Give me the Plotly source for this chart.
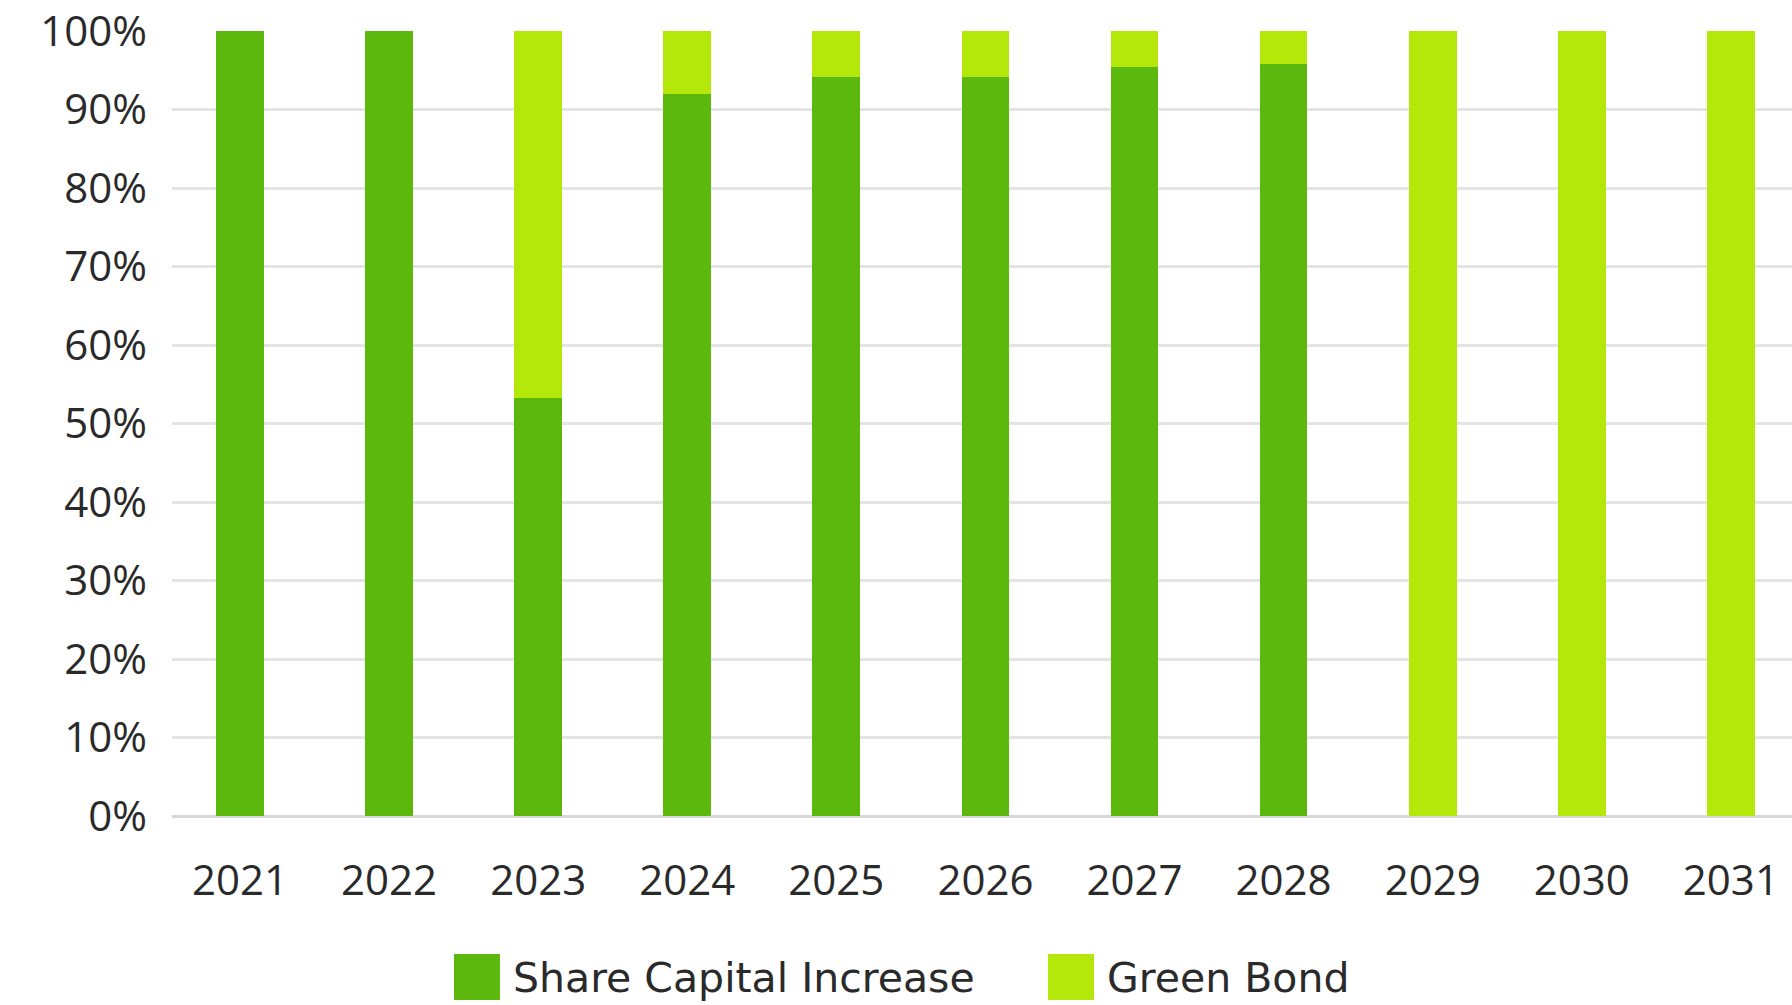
import plotly.graph_objects as go

years = ["2021", "2022", "2023", "2024", "2025", "2026", "2027", "2028", "2029", "2030", "2031"]
share_capital = [100, 100, 53.2, 92.0, 94.1, 94.1, 95.4, 95.75, 0, 0, 0]
green_bond = [0, 0, 46.8, 8.0, 5.9, 5.9, 4.6, 4.25, 100, 100, 100]
series_names = ["Share Capital Increase", "Green Bond"]
colors = ["#5DB80E", "#B4E80A"]
y_ticks = [0, 10, 20, 30, 40, 50, 60, 70, 80, 90, 100]

FONT = "Open Sans"
LEG_FONT = "DejaVu Sans"
TXT = "#2a2a2a"

fig = go.Figure()
for name, vals, col in zip(series_names, [share_capital, green_bond], colors):
    fig.add_trace(go.Bar(x=years, y=vals, name=name, marker=dict(color=col, line=dict(width=0)),
                         width=0.32, showlegend=False))

# page body margin is removed below, so figure coordinates = screen coordinates
W, H = 1792, 1005
L, R, T, B = 172, 0, 31, 1005 - 816
pw = W - L - R
ph = H - T - B

def px(xs):
    return (xs - L) / pw

def py(ys):
    return (H - B - ys) / ph

# custom legend (large swatches)
legend_items = [(454, 500, 511), (1048, 1094, 1105)]
for (x0, x1, tx), name, col in zip(legend_items, series_names, colors):
    fig.add_shape(type="rect", xref="paper", yref="paper", x0=px(x0), x1=px(x1),
                  y0=py(1000), y1=py(954), fillcolor=col, line=dict(width=0))
    fig.add_annotation(xref="paper", yref="paper", x=px(tx), y=py(978), text=name,
                       showarrow=False, xanchor="left", yanchor="middle",
                       font=dict(family=LEG_FONT, size=41, color=TXT))

fig.update_layout(
    width=W, height=H,
    margin=dict(l=L, r=R, t=T, b=B, pad=0, autoexpand=False),
    barmode="stack",
    plot_bgcolor="white", paper_bgcolor="white",
    font=dict(family=FONT, size=42, color=TXT),
    xaxis=dict(type="category", range=[-0.456, 10.41], showgrid=False, showline=False,
               ticks="", ticklabelstandoff=36, ticklabeloverflow="allow", automargin=False,
               tickfont=dict(family=FONT, size=42, color=TXT)),
    yaxis=dict(range=[0, 100], tickvals=y_ticks, ticktext=[f"{v}%" for v in y_ticks],
               showgrid=True, gridcolor="#e4e4e4", gridwidth=2.5, zeroline=True,
               zerolinecolor="#d8d8d8", zerolinewidth=2.5, showline=False, ticks="",
               ticklabelstandoff=24, ticklabeloverflow="allow", automargin=False,
               tickfont=dict(family=FONT, size=42, color=TXT)),
)

fig.write_html("out.html", config={"displayModeBar": False},
               post_script="document.body.style.margin='0px';document.body.style.overflow='hidden';")
